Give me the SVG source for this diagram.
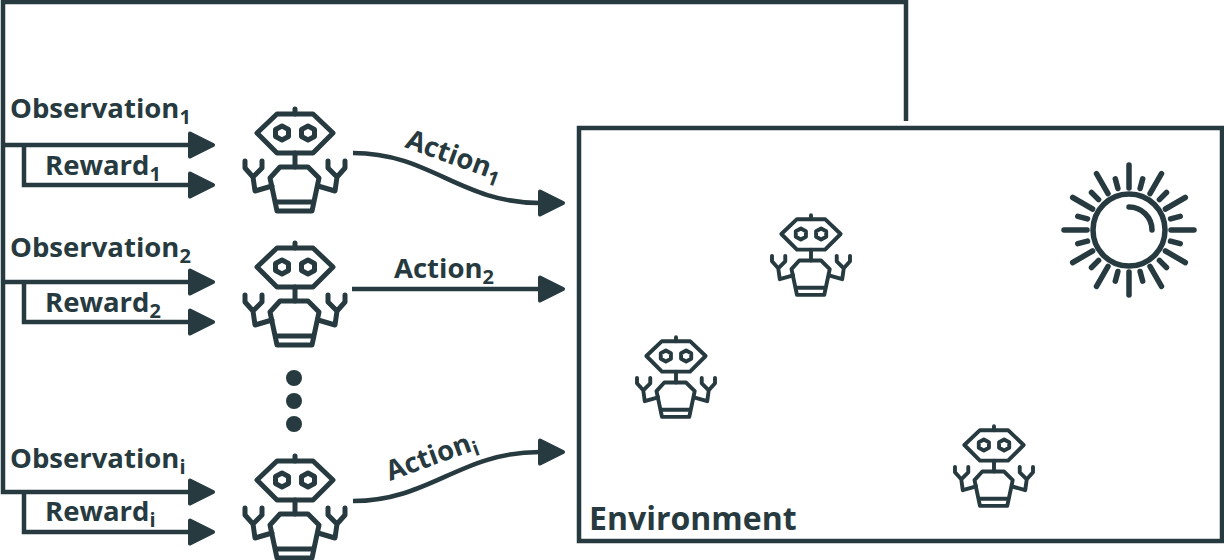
<svg xmlns="http://www.w3.org/2000/svg" xmlns:xlink="http://www.w3.org/1999/xlink" width="1224" height="560" viewBox="0 0 1224 560">
<style>
.l{fill:none;stroke:#263a40;stroke-width:4.500;stroke-linecap:butt;stroke-linejoin:miter}
.r{fill:none;stroke:#263a40;stroke-width:5;stroke-linecap:round;stroke-linejoin:round}
.s{fill:none;stroke:#263a40;stroke-width:5.500;stroke-linecap:round}
text{font-family:"Open Sans","DejaVu Sans",sans-serif;font-weight:700;font-size:27.500px;fill:#263a40}
.sub{font-size:20px;font-weight:700}
</style>
<defs>
<marker id="a" markerUnits="userSpaceOnUse" markerWidth="32" markerHeight="32" refX="4" refY="16" orient="auto" viewBox="0 0 32 32"><path d="M4 4.500L27 16L4 27.500Z" fill="#263a40" stroke="#263a40" stroke-width="4" stroke-linejoin="round"/></marker>
<g id="robot" class="r">
<path d="M-38 0L-18 -19H18L38 0L18 20H-18Z"/>
<path d="M-13 -7L-6.500 -3.500V3.500L-13 7L-19.500 3.500V-3.500Z"/>
<path d="M13 -7L19.500 -3.500V3.500L13 7L6.500 3.500V-3.500Z"/>
<path d="M0 -24V-19M0 20V34"/>
<path d="M-25 45L-15 34H13L24 45L17 78H-18Z"/>
<path d="M-18 69H17"/>
<path d="M-50 28V35L-42 44L-33 35V28M-42 44L-40 58L-23 53"/>
<path d="M50 28V35L42 44L33 35V28M42 44L40 58L23 53"/>
</g>
</defs>
<g id="connectors">
<path class="l" d="M906 121V2H3V492H190"/>
<path class="l" d="M3 145H190M24 145V185H190M3 282H190M24 282V322H190M24 492V532H190"/>
<path class="l" d="M189 145H190" marker-end="url(#a)"/>
<path class="l" d="M189 185H190" marker-end="url(#a)"/>
<path class="l" d="M189 282H190" marker-end="url(#a)"/>
<path class="l" d="M189 322H190" marker-end="url(#a)"/>
<path class="l" d="M189 492H190" marker-end="url(#a)"/>
<path class="l" d="M189 532H190" marker-end="url(#a)"/>
<path class="l" d="M353 153C430 153 460 203 540 203" marker-end="url(#a)"/>
<path class="l" d="M352 289H540" marker-end="url(#a)"/>
<path class="l" d="M353 501C430 501 460 452 540 452" marker-end="url(#a)"/>
</g>
<g id="labels">
<text x="10" y="118">Observation<tspan class="sub" dy="6">1</tspan></text>
<text x="45" y="175">Reward<tspan class="sub" dy="6">1</tspan></text>
<text x="10" y="257">Observation<tspan class="sub" dy="6">2</tspan></text>
<text x="45" y="312">Reward<tspan class="sub" dy="6">2</tspan></text>
<text x="10" y="468">Observation<tspan class="sub" dy="6">i</tspan></text>
<text x="45" y="521">Reward<tspan class="sub" dy="6">i</tspan></text>
<text transform="translate(404 147) rotate(20)">Action<tspan class="sub" dy="6">1</tspan></text>
<text x="394" y="278">Action<tspan class="sub" dy="6">2</tspan></text>
<text transform="translate(390 481) rotate(-20)">Action<tspan class="sub" dy="6">i</tspan></text>
</g>
<g id="agent-1"><use xlink:href="#robot" href="#robot" x="295" y="133"/></g>
<g id="agent-2"><use xlink:href="#robot" href="#robot" x="295" y="267"/></g>
<g id="agent-i"><use xlink:href="#robot" href="#robot" x="295" y="480"/></g>
<g id="dots" fill="#263a40"><circle cx="294" cy="378" r="8"/><circle cx="294" cy="401" r="8"/><circle cx="294" cy="424" r="8"/></g>
<g id="environment">
<rect class="l" x="579" y="128" width="643" height="413"/>
<text x="589" y="530" style="font-size:32px">Environment</text>
</g>
<g id="robot-a"><use xlink:href="#robot" href="#robot" transform="translate(811 234) scale(.78)"/></g>
<g id="robot-b"><use xlink:href="#robot" href="#robot" transform="translate(676 356) scale(.78)"/></g>
<g id="robot-c"><use xlink:href="#robot" href="#robot" transform="translate(994 445) scale(.78)"/></g>
<g id="sun" transform="translate(1129 230)">
<circle class="s" r="36"/>
<path class="s" d="M0 -23A23 23 0 0 1 23 0"/>
<g class="s">
<path d="M0 -42V-65M0 42V65M42 0H65M-42 0H-65"/>
<path d="M21 -36.400L32.500 -56.300M-21 -36.400L-32.500 -56.300M21 36.400L32.500 56.300M-21 36.400L-32.500 56.300"/>
<path d="M36.400 -21L56.300 -32.500M-36.400 -21L-56.300 -32.500M36.400 21L56.300 32.500M-36.400 21L-56.300 32.500"/>
<path d="M11.100 -41.500L13.700 -51.200M-11.100 -41.500L-13.700 -51.200M11.100 41.500L13.700 51.200M-11.100 41.500L-13.700 51.200"/>
<path d="M41.500 -11.100L51.200 -13.700M-41.500 -11.100L-51.200 -13.700M41.500 11.100L51.200 13.700M-41.500 11.100L-51.200 13.700"/>
<path d="M30.400 -30.400L37.500 -37.500M-30.400 -30.400L-37.500 -37.500M30.400 30.400L37.500 37.500M-30.400 30.400L-37.500 37.500"/>
</g>
</g>
</svg>
